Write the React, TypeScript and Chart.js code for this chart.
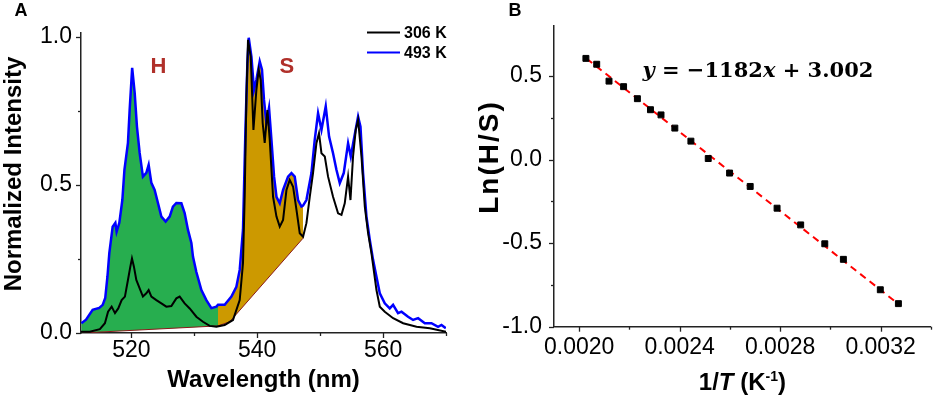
import { useEffect, useRef } from 'react';
import { Chart, registerables } from 'chart.js';

Chart.register(...registerables);

const SANS = '"Liberation Sans", Arial, Helvetica, sans-serif';
const SERIF = '"DejaVu Serif", "Liberation Serif", serif';

// ---------------- Panel A: emission spectra ----------------
// [wavelength (nm), normalized intensity]
const spectrum493K: [number, number][] = [
  [512.05, 0.033], [512.8, 0.045], [513.85, 0.078], [514.9, 0.085], [515.45, 0.095],
  [515.85, 0.118], [516.2, 0.19], [516.5, 0.27], [517.03, 0.359], [517.46, 0.372],
  [517.66, 0.342], [518.09, 0.372], [518.57, 0.449], [518.9, 0.551], [519.46, 0.642],
  [519.73, 0.753], [520.13, 0.895], [520.53, 0.811], [520.89, 0.697], [521.32, 0.608],
  [521.84, 0.528], [522.38, 0.541], [522.75, 0.568], [523.18, 0.507], [523.7, 0.483],
  [524.23, 0.439], [524.77, 0.393], [525.45, 0.376], [526.09, 0.393], [526.61, 0.427],
  [527.15, 0.439], [527.95, 0.438], [528.47, 0.405], [529.0, 0.348], [529.54, 0.304],
  [529.79, 0.258], [530.33, 0.206], [531.13, 0.145], [531.92, 0.111], [532.72, 0.084],
  [533.51, 0.089], [533.77, 0.095], [534.83, 0.095], [535.9, 0.123], [536.69, 0.156],
  [537.22, 0.213], [537.74, 0.348], [538.13, 0.686], [538.44, 0.911], [538.65, 0.997],
  [539.08, 0.933], [539.49, 0.821], [539.87, 0.855], [540.4, 0.917], [540.76, 0.889],
  [541.08, 0.787], [541.46, 0.709], [541.88, 0.76], [542.26, 0.652], [542.68, 0.528],
  [543.06, 0.46], [543.58, 0.438], [544.11, 0.483], [544.9, 0.528], [545.44, 0.54],
  [545.96, 0.528], [546.49, 0.449], [547.03, 0.427], [547.28, 0.43], [547.82, 0.449],
  [548.62, 0.54], [549.14, 0.652], [549.67, 0.742], [550.21, 0.686], [550.89, 0.765],
  [551.42, 0.663], [552.05, 0.607], [552.59, 0.551], [553.12, 0.506], [553.75, 0.54],
  [554.44, 0.641], [554.87, 0.596], [555.34, 0.652], [556.03, 0.731], [556.41, 0.697],
  [556.82, 0.54], [557.36, 0.393], [557.89, 0.314], [558.41, 0.247], [558.95, 0.19],
  [559.48, 0.134], [560.27, 0.1], [561.06, 0.083], [561.59, 0.095], [562.38, 0.067],
  [562.93, 0.072], [563.97, 0.055], [564.77, 0.044], [565.57, 0.05], [566.63, 0.033],
  [567.69, 0.033], [568.74, 0.021], [569.28, 0.027], [569.97, 0.016],
];

const spectrum306K: [number, number][] = [
  [512.0, 0.004], [513.4, 0.004], [515.0, 0.013], [515.8, 0.033], [516.3, 0.072],
  [516.87, 0.089], [517.4, 0.067], [517.92, 0.083], [518.46, 0.111], [518.98, 0.123],
  [519.46, 0.179], [519.84, 0.224], [520.1, 0.252], [520.41, 0.224], [520.79, 0.179],
  [521.32, 0.151], [521.84, 0.123], [522.38, 0.134], [522.75, 0.145], [523.18, 0.123],
  [523.97, 0.111], [524.77, 0.1], [525.56, 0.089], [526.36, 0.091], [527.15, 0.117],
  [527.68, 0.123], [528.47, 0.1], [529.27, 0.083], [530.33, 0.055], [531.38, 0.038],
  [532.45, 0.024], [533.51, 0.021], [534.83, 0.027], [536.15, 0.044], [537.22, 0.111],
  [537.74, 0.236], [538.01, 0.46], [538.28, 0.798], [538.54, 0.99], [538.97, 0.933],
  [539.4, 0.686], [539.87, 0.821], [540.24, 0.889], [540.56, 0.855], [540.87, 0.709],
  [541.19, 0.642], [541.62, 0.753], [541.99, 0.652], [542.52, 0.46], [543.06, 0.393],
  [543.58, 0.359], [544.11, 0.382], [544.65, 0.483], [545.17, 0.517], [545.7, 0.494],
  [546.24, 0.416], [546.76, 0.337], [547.29, 0.325], [547.82, 0.371], [548.35, 0.46],
  [548.87, 0.54], [549.41, 0.641], [549.82, 0.675], [550.21, 0.607], [550.74, 0.596],
  [551.26, 0.528], [552.05, 0.46], [552.85, 0.404], [553.39, 0.399], [553.91, 0.438],
  [554.44, 0.528], [554.82, 0.449], [555.23, 0.596], [555.66, 0.686], [556.03, 0.72],
  [556.57, 0.596], [557.1, 0.427], [557.62, 0.337], [558.16, 0.269], [558.95, 0.145],
  [559.48, 0.089], [560.27, 0.072], [561.6, 0.05], [563.19, 0.033], [565.32, 0.021],
  [567.43, 0.016], [570.0, 0.004],
];

const baselineH: [number, number][] = [[512.05, 0.0], [533.77, 0.024]];
const baselineS: [number, number][] = [[533.77, 0.024], [535.63, 0.038], [547.28, 0.32]];
const rangeH = [512.05, 533.77];
const rangeS = [533.77, 547.28];

const wavelengthTicks = [520, 540, 560];
const wavelengthMinorTicks = [530, 550, 570];
const intensityTicks = [0, 0.5, 1.0];
const intensityMinorTicks = [0.25, 0.75];
const spectrumLabels = ['306 K', '493 K'];
const regionLabels = ['H', 'S'];

// ---------------- Panel B: Arrhenius-type plot ----------------
const inverseT = [
  0.002027, 0.00207, 0.002119, 0.002177, 0.002232, 0.002284, 0.002326, 0.002381, 0.002445,
  0.002514, 0.002599, 0.002681, 0.002788, 0.002882, 0.002978, 0.003052, 0.003199, 0.003271,
];
const lnHS = [
  0.605, 0.57, 0.469, 0.436, 0.364, 0.298, 0.267, 0.188, 0.11,
  0.006, -0.081, -0.161, -0.291, -0.391, -0.504, -0.597, -0.779, -0.862,
];
const fitLine: [number, number][] = [[0.00203, 0.603], [0.00327, -0.863]];
const invTTicks = [0.002, 0.0024, 0.0028, 0.0032];
const invTMinorTicks = [0.0022, 0.0026, 0.003, 0.0034];
const lnTicks = [-1.0, -0.5, 0.0, 0.5];
const lnMinorTicks = [-0.75, -0.25, 0.25];

const AXIS_COLOR = '#222';
const GREEN = '#27ae4f';
const GOLD = '#cc9900';
const BASE_RED = '#8b1a1a';
const LABEL_RED = '#b0302a';
const TICK_FONT = 23;

const toXY = (pts: [number, number][]) => pts.map(([x, y]) => ({ x, y }));
const inRange = (pts: [number, number][], r: number[]) => pts.filter(([x]) => x >= r[0] && x <= r[1]);

// draws major / minor tick marks outside the axes
const tickMarks = {
  id: 'tickMarks',
  afterDraw(chart: any, _a: any, opts: any) {
    const { ctx, chartArea, scales } = chart;
    ctx.save();
    ctx.strokeStyle = AXIS_COLOR;
    ctx.lineWidth = 1.3;
    const xs = scales.x;
    const ys = scales.y;
    const drawX = (vals: number[], len: number) => {
      vals.forEach((v) => {
        const p = Math.round(xs.getPixelForValue(v)) + 0.5;
        ctx.beginPath();
        ctx.moveTo(p, chartArea.bottom);
        ctx.lineTo(p, chartArea.bottom + len);
        ctx.stroke();
      });
    };
    const drawY = (vals: number[], len: number) => {
      vals.forEach((v) => {
        const p = Math.round(ys.getPixelForValue(v)) + 0.5;
        ctx.beginPath();
        ctx.moveTo(chartArea.left, p);
        ctx.lineTo(chartArea.left - len, p);
        ctx.stroke();
      });
    };
    drawX(opts.xMajor, 5);
    drawX(opts.xMinor, 3);
    drawY(opts.yMajor, 5);
    drawY(opts.yMinor, 3);
    ctx.restore();
  },
};

const panelADecor = {
  id: 'panelADecor',
  afterDraw(chart: any) {
    const { ctx, chartArea, scales } = chart;
    ctx.save();
    ctx.fillStyle = '#000';
    ctx.textAlign = 'center';
    ctx.textBaseline = 'middle';
    ctx.font = `bold 18px ${SANS}`;
    ctx.fillText('A', 21, 11);

    ctx.font = `bold 24px ${SANS}`;
    ctx.fillText('Wavelength (nm)', (chartArea.left + chartArea.right) / 2, 380);
    ctx.save();
    ctx.translate(14, 174);
    ctx.rotate(-Math.PI / 2);
    ctx.fillText('Normalized Intensity', 0, 0);
    ctx.restore();

    // region labels
    ctx.fillStyle = LABEL_RED;
    ctx.font = `bold 22px ${SANS}`;
    const lblPos: [number, number][] = [[524.3, 0.897], [544.7, 0.897]];
    regionLabels.forEach((t, i) => {
      ctx.fillText(t, scales.x.getPixelForValue(lblPos[i][0]), scales.y.getPixelForValue(lblPos[i][1]));
    });

    // legend
    const colors = ['#000000', '#0000ff'];
    ctx.textAlign = 'left';
    ctx.font = `bold 16px ${SANS}`;
    spectrumLabels.forEach((t, i) => {
      const y = 32.5 + i * 20;
      ctx.strokeStyle = colors[i];
      ctx.lineWidth = 2;
      ctx.beginPath();
      ctx.moveTo(367, y);
      ctx.lineTo(400, y);
      ctx.stroke();
      ctx.fillStyle = '#000';
      ctx.fillText(t, 404, y + 1);
    });
    ctx.restore();
  },
};

const panelBDecor = {
  id: 'panelBDecor',
  afterDraw(chart: any) {
    const { ctx, chartArea, scales } = chart;
    ctx.save();
    ctx.fillStyle = '#000';
    ctx.textAlign = 'center';
    ctx.textBaseline = 'middle';
    ctx.font = `bold 18px ${SANS}`;
    ctx.fillText('B', 47, 11);

    // y title
    ctx.save();
    ctx.translate(22, 157);
    ctx.rotate(-Math.PI / 2);
    ctx.font = `bold 28px ${SANS}`;
    (ctx as any).letterSpacing = '2px';
    ctx.fillText('Ln(H/S)', 0, 0);
    ctx.restore();

    // x title: 1/T (K^-1)
    const big = `bold 24px ${SANS}`;
    const bigIt = `italic bold 24px ${SANS}`;
    const small = `bold 14px ${SANS}`;
    const parts = [
      { t: '1/', f: big, dy: 0 },
      { t: 'T', f: bigIt, dy: 0 },
      { t: ' (K', f: big, dy: 0 },
      { t: '-1', f: small, dy: -9 },
      { t: ')', f: big, dy: 0 },
    ];
    ctx.textAlign = 'left';
    ctx.textBaseline = 'alphabetic';
    let total = 0;
    parts.forEach((p) => { ctx.font = p.f; total += ctx.measureText(p.t).width; });
    let x = (chartArea.left + chartArea.right) / 2 - total / 2;
    const base = 390;
    parts.forEach((p) => {
      ctx.font = p.f;
      ctx.fillText(p.t, x, base + p.dy);
      x += ctx.measureText(p.t).width;
    });

    // equation
    const eq = [
      { t: 'y', f: `italic bold 21px ${SERIF}` },
      { t: ' = \u22121182', f: `bold 21px ${SERIF}` },
      { t: 'x', f: `italic bold 21px ${SERIF}` },
      { t: ' + 3.002', f: `bold 21px ${SERIF}` },
    ];
    ctx.textBaseline = 'middle';
    let ex = scales.x.getPixelForValue(0.002252);
    const ey = scales.y.getPixelForValue(0.526);
    eq.forEach((p) => {
      ctx.font = p.f;
      ctx.fillText(p.t, ex, ey);
      ex += ctx.measureText(p.t).width;
    });
    ctx.restore();
  },
};

function PanelA() {
  const ref = useRef<HTMLCanvasElement>(null);
  useEffect(() => {
    const fillH = toXY(inRange(spectrum493K, rangeH));
    const fillS = toXY(inRange(spectrum493K, rangeS));
    const chart = new Chart(ref.current as HTMLCanvasElement, {
      type: 'line',
      data: {
        datasets: [
          { label: 'baseH', data: toXY(baselineH), borderColor: BASE_RED, borderWidth: 1, pointRadius: 0, order: 2 },
          { label: 'baseS', data: toXY(baselineS), borderColor: BASE_RED, borderWidth: 1, pointRadius: 0, order: 2 },
          { label: 'H', data: fillH, borderColor: 'rgba(0,0,0,0)', borderWidth: 0, pointRadius: 0, order: 3,
            fill: { target: 0, above: GREEN, below: GREEN } },
          { label: 'S', data: fillS, borderColor: 'rgba(0,0,0,0)', borderWidth: 0, pointRadius: 0, order: 3,
            fill: { target: 1, above: GOLD, below: GOLD } },
          { label: spectrumLabels[1], data: toXY(spectrum493K), borderColor: '#0000ff', borderWidth: 2.5, pointRadius: 0, order: 1 },
          { label: spectrumLabels[0], data: toXY(spectrum306K), borderColor: '#000000', borderWidth: 2, pointRadius: 0, order: 0 },
        ] as any,
      },
      options: {
        responsive: false,
        animation: false,
        devicePixelRatio: 1,
        layout: { padding: { top: 33, right: 22, left: 0, bottom: 0 } },
        plugins: {
          legend: { display: false },
          tooltip: { enabled: false },
          tickMarks: { xMajor: wavelengthTicks, xMinor: wavelengthMinorTicks, yMajor: intensityTicks, yMinor: intensityMinorTicks },
        } as any,
        scales: {
          x: {
            type: 'linear',
            min: 512,
            max: 570,
            afterBuildTicks: (s: any) => { s.ticks = wavelengthTicks.map((v) => ({ value: v })); },
            afterFit: (s: any) => { s.height = 64; },
            grid: { display: false, drawTicks: false },
            border: { display: true, color: AXIS_COLOR, width: 1.5 },
            ticks: { color: '#000', font: { family: SANS, size: TICK_FONT }, padding: 4, maxRotation: 0, callback: (v: any) => String(Math.round(v)) },
          },
          y: {
            type: 'linear',
            min: 0,
            max: 1.013,
            afterBuildTicks: (s: any) => { s.ticks = intensityTicks.map((v) => ({ value: v })); },
            afterFit: (s: any) => { s.width = 81; },
            grid: { display: false, drawTicks: false },
            border: { display: true, color: AXIS_COLOR, width: 1.5 },
            ticks: { color: '#000', font: { family: SANS, size: TICK_FONT }, padding: 9, callback: (v: any) => Number(v).toFixed(1) },
          },
        },
      },
      plugins: [tickMarks, panelADecor],
    });
    return () => chart.destroy();
  }, []);
  return <canvas ref={ref} width={468} height={397} style={{ display: 'block', width: 468, height: 397 }} />;
}

function PanelB() {
  const ref = useRef<HTMLCanvasElement>(null);
  useEffect(() => {
    const chart = new Chart(ref.current as HTMLCanvasElement, {
      type: 'scatter',
      data: {
        datasets: [
          { label: 'fit', data: toXY(fitLine), showLine: true, borderColor: '#ff0000', borderWidth: 2,
            borderDash: [7, 5], pointRadius: 0, order: 1 },
          { label: 'data', data: inverseT.map((x, i) => ({ x, y: lnHS[i] })), pointStyle: 'rect',
            pointRadius: 4.2, backgroundColor: '#000', borderColor: '#000', borderWidth: 1, order: 0 },
        ] as any,
      },
      options: {
        responsive: false,
        animation: false,
        devicePixelRatio: 1,
        layout: { padding: { top: 18, right: 2, left: 0, bottom: 0 } },
        plugins: {
          legend: { display: false },
          tooltip: { enabled: false },
          tickMarks: { xMajor: invTTicks, xMinor: invTMinorTicks, yMajor: lnTicks, yMinor: lnMinorTicks },
        } as any,
        scales: {
          x: {
            type: 'linear',
            min: 0.0019,
            max: 0.0034,
            afterBuildTicks: (s: any) => { s.ticks = invTTicks.map((v) => ({ value: v })); },
            afterFit: (s: any) => { s.height = 70.3; },
            grid: { display: false, drawTicks: false },
            border: { display: true, color: AXIS_COLOR, width: 1.5 },
            ticks: { color: '#000', font: { family: SANS, size: TICK_FONT }, padding: 7, maxRotation: 0, callback: (v: any) => Number(v).toFixed(4) },
          },
          y: {
            type: 'linear',
            min: -1.0,
            max: 0.8,
            afterBuildTicks: (s: any) => { s.ticks = lnTicks.map((v) => ({ value: v })); },
            afterFit: (s: any) => { s.width = 86; },
            grid: { display: false, drawTicks: false },
            border: { display: true, color: AXIS_COLOR, width: 1.5 },
            ticks: { color: '#000', font: { family: SANS, size: TICK_FONT }, padding: 12, callback: (v: any) => Number(v).toFixed(1) },
          },
        },
      },
      plugins: [tickMarks, panelBDecor],
    });
    return () => chart.destroy();
  }, []);
  return <canvas ref={ref} width={468} height={397} style={{ display: 'block', width: 468, height: 397 }} />;
}

export default function App() {
  return (
    <div style={{ position: 'absolute', left: 0, top: 0, width: 936, height: 397, display: 'flex', background: '#fff' }}>
      <PanelA />
      <PanelB />
    </div>
  );
}
